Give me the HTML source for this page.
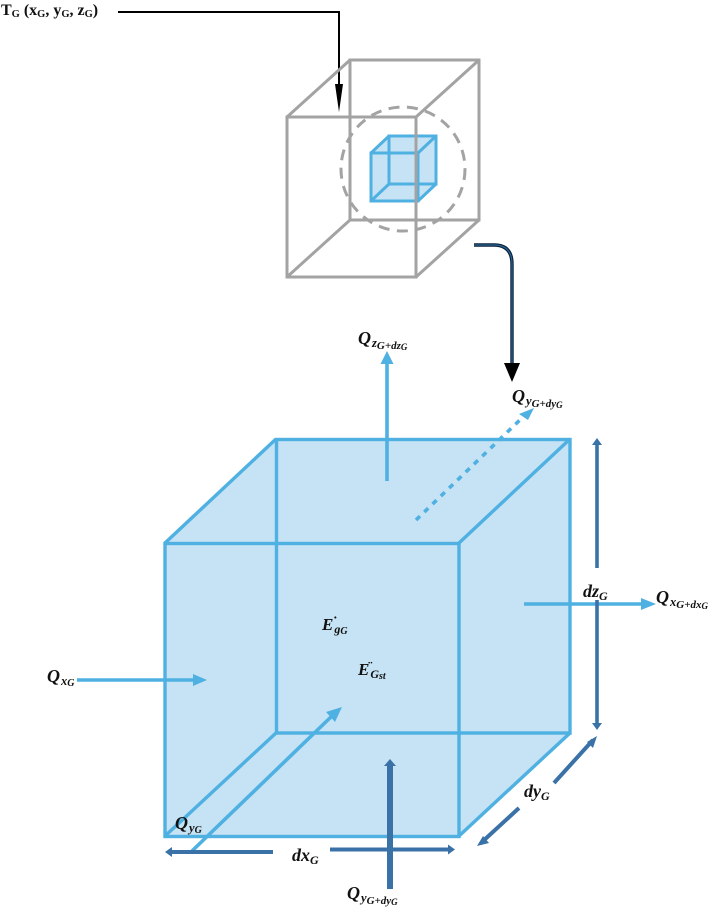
<!DOCTYPE html>
<html><head><meta charset="utf-8">
<style>
html,body{margin:0;padding:0;background:#fff}
svg{display:block}
text{font-family:"Liberation Serif",serif;font-weight:bold;fill:#111}
.i{font-style:italic}
</style></head>
<body>
<svg width="709" height="909" viewBox="0 0 709 909" xmlns="http://www.w3.org/2000/svg">
<!-- black pointer -->
<polyline points="118,12 339,12 339,90" fill="none" stroke="#000" stroke-width="2"/>
<polygon points="335,84 343,84 339,112" fill="#000"/>
<!-- small blue cube -->
<g>
<polygon points="371,153 389,136 436,136 436,184 419,201 371,201" fill="#c5e3f4"/>
<g fill="none" stroke="#4fb0e2" stroke-width="3">
<rect x="371" y="153" width="47" height="48"/>
<rect x="389" y="136" width="47" height="48"/>
<line x1="371" y1="153" x2="389" y2="136"/>
<line x1="418" y1="153" x2="436" y2="136"/>
<line x1="371" y1="201" x2="389" y2="184"/>
<line x1="418" y1="201" x2="436" y2="184"/>
</g>
</g>
<!-- gray cube -->
<g fill="none" stroke="#a3a3a3" stroke-width="3">
<rect x="350" y="60" width="129" height="160"/>
<rect x="287" y="117" width="129" height="160"/>
<line x1="287" y1="117" x2="350" y2="60"/>
<line x1="416" y1="117" x2="479" y2="60"/>
<line x1="287" y1="277" x2="350" y2="220"/>
<line x1="416" y1="277" x2="479" y2="220"/>
<circle cx="403" cy="169" r="62" stroke-width="3" stroke-dasharray="11 7.5"/>
</g>
<!-- curved arrow -->
<path d="M474,245 H494 Q512,245 512,264 V366" fill="none" stroke="#0b2036" stroke-width="3.4"/>
<path d="M474,245 H494 Q512,245 512,264 V366" fill="none" stroke="#2a6396" stroke-width="1.2"/>
<polygon points="504,363 520,363 512,382" fill="#000"/>
<!-- big cube -->
<polygon points="165,543 276,439 570,439 570,733 459,836 165,836" fill="#c5e3f4"/>
<g fill="none" stroke="#4fb0e2" stroke-width="3.4">
<rect x="276.500" y="439.500" width="293.500" height="293.500"/>
<rect x="165" y="543.500" width="294" height="293"/>
<line x1="165" y1="543" x2="276" y2="439"/>
<line x1="459" y1="543" x2="570" y2="439"/>
<line x1="165" y1="836" x2="276" y2="733"/>
<line x1="459" y1="836" x2="570" y2="733"/>
</g>
<!-- blue flux arrows -->
<g stroke="#4fb0e2" stroke-width="3.6" fill="none">
<line x1="387" y1="481" x2="387" y2="362"/>
<line x1="416" y1="520" x2="524" y2="416" stroke-dasharray="5.500 6"/>
<line x1="524" y1="604" x2="643" y2="604"/>
<line x1="77" y1="680" x2="195" y2="680"/>
<line x1="192" y1="851" x2="333" y2="715"/>
</g>
<g fill="#4fb0e2">
<polygon points="387,351 393.500,364 380.500,364"/>
<polygon points="534,408 519,414 528,420"/>
<polygon points="656,604 641,598 641,610"/>
<polygon points="207,680 193,674 193,686"/>
<polygon points="342,707 326,712 335,722"/>
</g>
<!-- dark dimension arrows -->
<g stroke="#3a72a8" fill="none">
<line x1="597" y1="444" x2="597" y2="568" stroke-width="3.6"/>
<line x1="597" y1="600" x2="597" y2="724" stroke-width="3.6"/>
<line x1="170" y1="852" x2="273" y2="852" stroke-width="4"/>
<line x1="330" y1="849.500" x2="450" y2="849.500" stroke-width="4"/>
<line x1="390" y1="765" x2="390" y2="889" stroke-width="6"/>
<line x1="554" y1="783" x2="593" y2="740" stroke-width="4"/>
<line x1="519" y1="808" x2="482" y2="842" stroke-width="4"/>
</g>
<g fill="#3a72a8">
<polygon points="597,438 602,445 592,445"/>
<polygon points="597,730 602,723 592,723"/>
<polygon points="165,852 172,847 172,857"/>
<polygon points="455,849.500 448,844.500 448,854.500"/>
<polygon points="390,759 396,766 384,766"/>
<polygon points="597,736 587,742 593,748"/>
<polygon points="477,846 483,836 489,843"/>
</g>
<!-- labels -->
<text x="1" y="15" font-size="16">T<tspan font-size="10.500" dy="2">G</tspan><tspan dy="-2"> (x</tspan><tspan font-size="10.500" dy="2">G</tspan><tspan dy="-2">, y</tspan><tspan font-size="10.500" dy="2">G</tspan><tspan dy="-2">, z</tspan><tspan font-size="10.500" dy="2">G</tspan><tspan dy="-2">)</tspan></text>

<text class="i" x="358" y="344" font-size="18">Q<tspan font-size="12.500" dy="3" dx="1">z</tspan><tspan font-size="11" dy="2">G+dz</tspan><tspan font-size="9" dy="1">G</tspan></text>
<text class="i" x="512" y="402" font-size="18">Q<tspan font-size="12.500" dy="3" dx="1">y</tspan><tspan font-size="11" dy="2">G+dy</tspan><tspan font-size="9" dy="1">G</tspan></text>
<text class="i" x="656" y="603" font-size="18">Q<tspan font-size="12.500" dy="3" dx="1">x</tspan><tspan font-size="11" dy="2">G+dx</tspan><tspan font-size="9" dy="1">G</tspan></text>
<text class="i" x="47" y="682" font-size="18">Q<tspan font-size="12.500" dy="3" dx="1">x</tspan><tspan font-size="10" dy="1">G</tspan></text>
<text class="i" x="175" y="829" font-size="18">Q<tspan font-size="12.500" dy="3" dx="1">y</tspan><tspan font-size="10" dy="1">G</tspan></text>
<text class="i" x="347" y="899" font-size="18">Q<tspan font-size="12.500" dy="3" dx="1">y</tspan><tspan font-size="11" dy="2">G+dy</tspan><tspan font-size="9" dy="1">G</tspan></text>
<text class="i" x="583" y="597" font-size="18">dz<tspan font-size="12" dy="3">G</tspan></text>
<text class="i" x="292" y="861" font-size="18">dx<tspan font-size="12" dy="3">G</tspan></text>
<text class="i" x="524" y="797" font-size="18">dy<tspan font-size="12" dy="3">G</tspan></text>
<text class="i" x="322" y="630" font-size="17">E<tspan font-size="12" dy="3" dx="1">g</tspan><tspan font-size="10" dy="1">G</tspan></text>
<text x="333" y="626" font-size="14">˙</text>
<text class="i" x="358" y="675" font-size="17">E<tspan font-size="12" dy="3" dx="1">G</tspan><tspan font-size="10" dy="1">st</tspan></text>
<text x="368" y="671" font-size="14">¨</text>
</svg>
</body></html>
